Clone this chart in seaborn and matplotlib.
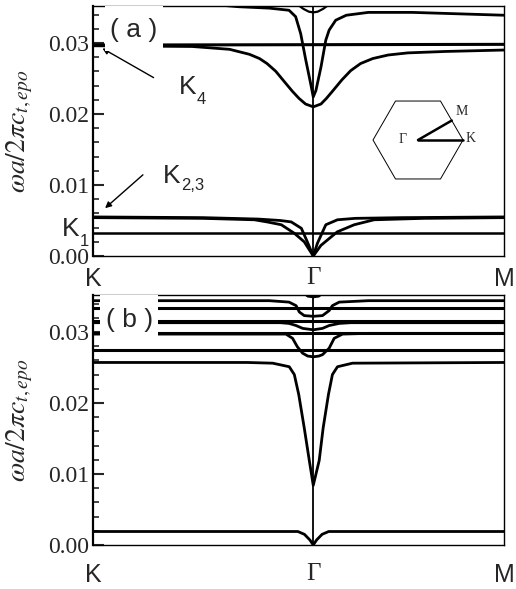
import numpy as np
import pandas as pd
import matplotlib
matplotlib.use("Agg")
import matplotlib.pyplot as plt
import seaborn as sns
from matplotlib.patches import Rectangle
from matplotlib.ticker import MultipleLocator

# ---------------- data ----------------
# path coordinate: K = 0, Gamma = 1, M = 1.866
sym_pos = [0.0, 1.0, 1.866]
sym_labels = ["K", "Γ", "M"]
y_ticks = [0.00, 0.01, 0.02, 0.03]
y_ticklabels = ["0.00", "0.01", "0.02", "0.03"]

# panel (a)
a1_k = [0.0, 1.866]
a1_w = [0.0297, 0.0298]
a2_k = [0.0, 0.45, 0.62, 0.71, 0.756, 0.79, 0.83, 0.87, 0.905, 0.935, 0.965, 1.0,
        1.035, 1.06, 1.09, 1.13, 1.17, 1.215, 1.27, 1.34, 1.43, 1.6, 1.866]
a2_w = [0.0296, 0.0295, 0.0291, 0.0284, 0.0278, 0.0271, 0.0260, 0.0245, 0.0232, 0.0222, 0.0214, 0.0210,
        0.0214, 0.0222, 0.0233, 0.0248, 0.0261, 0.0271, 0.0278, 0.0283, 0.0286, 0.0288, 0.0290]
a3_k = [0.0, 0.55, 0.66, 0.80, 0.89, 0.92, 0.943, 0.966, 0.988, 1.0,
        1.012, 1.035, 1.057, 1.072, 1.102, 1.15, 1.25, 1.45, 1.866]
a3_w = [0.0355, 0.0354, 0.0351, 0.0349, 0.0346, 0.0337, 0.0313, 0.0276, 0.0243, 0.0224,
        0.0233, 0.0266, 0.0304, 0.0318, 0.0332, 0.0339, 0.0343, 0.0343, 0.0339]
a4_k = [0.92, 0.955, 0.98, 1.0, 1.02, 1.045, 1.08]
a4_w = [0.0356, 0.0348, 0.0344, 0.0343, 0.0344, 0.0348, 0.0356]
a5_k = [0.0, 1.866]
a5_w = [0.0033, 0.0033]
a6_k = [0.0, 0.50, 0.75, 0.85, 0.90, 0.946, 0.973, 1.0,
        1.019, 1.057, 1.11, 1.19, 1.40, 1.866]
a6_w = [0.0055, 0.0054, 0.0052, 0.0050, 0.0048, 0.0039, 0.0020, 0.0,
        0.0018, 0.0044, 0.0051, 0.0053, 0.0054, 0.0055]
a7_k = [0.0, 0.50, 0.733, 0.79, 0.855, 0.914, 0.959, 1.0,
        1.035, 1.109, 1.186, 1.276, 1.50, 1.866]
a7_w = [0.0054, 0.0053, 0.0051, 0.0048, 0.0044, 0.0032, 0.0020, 0.0,
        0.0015, 0.0034, 0.0044, 0.0051, 0.0053, 0.0054]

# panel (b)
b_flat_w = [0.0334, 0.0315, 0.0299, 0.0275]
b_flat_k = [0.0, 1.866]
b1_k = [0.0, 0.80, 0.89, 0.922, 0.937, 0.959, 1.0, 1.042, 1.072, 1.087, 1.118, 1.25, 1.866]
b1_w = [0.0344, 0.0344, 0.0342, 0.0337, 0.0328, 0.0323, 0.0322, 0.0323, 0.0330, 0.0337, 0.0342, 0.0344, 0.0344]
b2_k = [0.0, 0.85, 0.89, 0.922, 0.952, 1.0, 1.042, 1.072, 1.118, 1.17, 1.866]
b2_w = [0.0313, 0.0313, 0.0312, 0.0309, 0.0305, 0.0303, 0.0305, 0.0309, 0.0312, 0.0313, 0.0313]
b3_k = [0.0, 0.876, 0.906, 0.928, 0.952, 0.975, 1.0, 1.025, 1.042, 1.072, 1.095, 1.133, 1.25, 1.866]
b3_w = [0.0297, 0.0297, 0.0291, 0.0279, 0.0270, 0.0266, 0.0265, 0.0266, 0.0268, 0.0277, 0.0291, 0.0297, 0.0298, 0.0298]
b4_k = [0.0, 0.70, 0.816, 0.891, 0.914, 0.934, 0.959, 0.982, 1.0,
        1.027, 1.045, 1.069, 1.087, 1.11, 1.178, 1.866]
b4_w = [0.0257, 0.0257, 0.0256, 0.0251, 0.0240, 0.0212, 0.0165, 0.0119, 0.0084,
        0.0119, 0.0165, 0.0212, 0.0240, 0.0251, 0.0256, 0.0257]
b5_k = [0.0, 0.93, 0.96, 0.985, 1.0, 1.015, 1.04, 1.07, 1.866]
b5_w = [0.0019, 0.0019, 0.0015, 0.0007, 0.0, 0.0007, 0.0015, 0.0019, 0.0019]
b6_k = [0.95, 0.975, 1.0, 1.025, 1.05]
b6_w = [0.0356, 0.0350, 0.0349, 0.0350, 0.0356]

# ---------------- figure ----------------
sns.set_style("ticks")
plt.rcParams["font.family"] = ["Liberation Serif", "DejaVu Serif"]
plt.rcParams["mathtext.fontset"] = "stix"

W, H = 516, 589
fig = plt.figure(figsize=(W / 100, H / 100), dpi=100)


def fax(x0, y0, x1, y1):
    return [x0 / W, 1 - y1 / H, (x1 - x0) / W, (y1 - y0) / H]


ax_a = fig.add_axes(fax(93, 6, 504, 256))
ax_b = fig.add_axes(fax(93, 295, 504, 545))


def draw(ax, k, w, lw=2.0):
    sns.lineplot(x=k, y=w, ax=ax, color="black", lw=lw, sort=False,
                 estimator=None, solid_capstyle="butt")


for ax in (ax_a, ax_b):
    ax.axvline(sym_pos[1], color="black", lw=1.3, zorder=1)

draw(ax_a, a1_k, a1_w, 2.2)
draw(ax_a, a2_k, a2_w, 2.0)
draw(ax_a, a3_k, a3_w, 2.0)
draw(ax_a, a4_k, a4_w, 1.6)
draw(ax_a, a5_k, a5_w, 1.8)
draw(ax_a, a6_k, a6_w, 2.0)
draw(ax_a, a7_k, a7_w, 2.0)

for wv in b_flat_w:
    draw(ax_b, b_flat_k, [wv, wv], 2.2)
draw(ax_b, b1_k, b1_w, 2.0)
draw(ax_b, b2_k, b2_w, 2.0)
draw(ax_b, b3_k, b3_w, 2.0)
draw(ax_b, b4_k, b4_w, 2.0)
draw(ax_b, b5_k, b5_w, 2.0)
draw(ax_b, b6_k, b6_w, 1.6)

for ax in (ax_a, ax_b):
    ax.set_xlim(sym_pos[0], sym_pos[-1])
    ax.set_ylim(0.0, 0.0352)
    ax.set_yticks(y_ticks)
    ax.set_yticklabels(y_ticklabels, fontsize=17, family=["Liberation Serif"])
    ax.yaxis.set_minor_locator(MultipleLocator(0.002))
    ax.tick_params(axis="y", which="major", direction="in", length=8, width=1.5, pad=3)
    ax.tick_params(axis="y", which="minor", direction="in", length=4, width=1.2)
    ax.tick_params(axis="x", which="both", length=0)
    ax.set_xticks(sym_pos)
    ax.set_xticklabels(sym_labels, fontsize=18)
    for t in ax.get_xticklabels():
        t.set_family(["Liberation Serif"] if t.get_text() == "Γ" else ["Liberation Sans"])
    for s in ax.spines.values():
        s.set_linewidth(1.0)
        s.set_color("black")
    ax.spines["left"].set_linewidth(1.6)
    ax.set_xlabel("")
    ax.set_ylabel(r"$\omega a/2\pi c_{t,epo}$", fontsize=20)
    ax.yaxis.set_label_coords(-0.14, 0.5)

ax_a.tick_params(axis="x", pad=8)
ax_b.tick_params(axis="x", pad=13)

# white label boxes
ax_a.add_patch(Rectangle((0.029, 0.82), 0.141, 0.18, transform=ax_a.transAxes,
                         facecolor="white", edgecolor="none", zorder=5))
ax_a.text(0.099, 0.905, "( a )", transform=ax_a.transAxes, ha="center", va="center",
          fontsize=19, family=["Liberation Sans"], zorder=6)
ax_b.add_patch(Rectangle((0.017, 0.828), 0.141, 0.172, transform=ax_b.transAxes,
                         facecolor="white", edgecolor="none", zorder=5))
ax_b.text(0.09, 0.90, "( b )", transform=ax_b.transAxes, ha="center", va="center",
          fontsize=19, family=["Liberation Sans"], zorder=6)


# annotations (figure pixel positions, y from top)
def fp(x, y):
    return (x, H - y)


sans = ["Liberation Sans"]
ax_a.annotate("", xy=fp(100, 47), xytext=fp(156, 79), xycoords="figure pixels",
              textcoords="figure pixels",
              arrowprops=dict(arrowstyle="-|>", color="black", lw=1.0, mutation_scale=9))
ax_a.annotate("", xy=fp(103, 210), xytext=fp(145, 173), xycoords="figure pixels",
              textcoords="figure pixels",
              arrowprops=dict(arrowstyle="-|>", color="black", lw=1.0, mutation_scale=9))
fig.text(196 / W, 1 - 94 / H, "K", fontsize=19, family=sans, ha="right", va="baseline")
fig.text(197 / W, 1 - 104 / H, "4", fontsize=12, family=sans, ha="left", va="baseline")
fig.text(180 / W, 1 - 183 / H, "K", fontsize=19, family=sans, ha="right", va="baseline")
fig.text(181 / W, 1 - 190 / H, "2,3", fontsize=12, family=sans, ha="left", va="baseline")
fig.text(79 / W, 1 - 236 / H, "K", fontsize=19, family=sans, ha="right", va="baseline")
fig.text(80 / W, 1 - 246 / H, "1", fontsize=12, family=sans, ha="left", va="baseline")

# Brillouin-zone inset
cx, cy = 418, 140
ins = fig.add_axes(fax(cx - 60, cy - 50, cx + 60, cy + 50))
ins.set_xlim(-60, 60)
ins.set_ylim(-50, 50)
ins.axis("off")
R = 45.0
ang = np.deg2rad(np.arange(0, 420, 60))
hx, hy = R * np.cos(ang), R * np.sin(ang)
sns.lineplot(x=hx, y=hy, ax=ins, color="black", lw=0.7, sort=False, estimator=None)
mx, my = (hx[0] + hx[1]) / 2, (hy[0] + hy[1]) / 2
sns.lineplot(x=[0, R], y=[0, 0], ax=ins, color="black", lw=1.8, sort=False, estimator=None)
sns.lineplot(x=[0, mx], y=[0, my], ax=ins, color="black", lw=1.8, sort=False, estimator=None)
ins.text(-15, 0, "Γ", fontsize=10, ha="center", va="center", family=["Liberation Serif"])
ins.text(44, 28, "M", fontsize=10, ha="center", va="center", family=["Liberation Serif"])
ins.text(53, 1, "K", fontsize=10, ha="center", va="center", family=["Liberation Serif"])

fig.savefig("out.png", dpi=100)
